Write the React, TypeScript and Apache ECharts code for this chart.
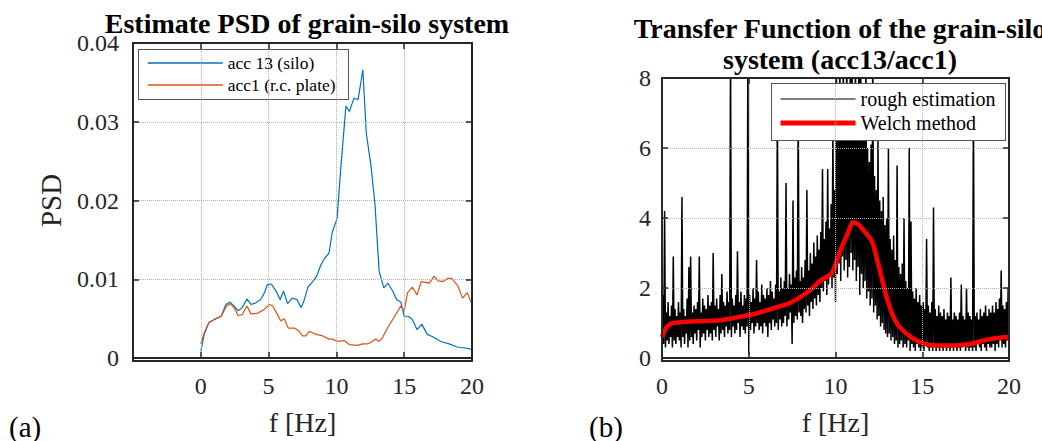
import React, { useEffect, useRef } from "react";
import * as echarts from "echarts";

// ---------- Data ----------
// (a) PSD estimates
const psdFreqBlue = [0, 0.25, 0.6, 1.0, 1.5, 1.85, 2.15, 2.45, 2.75, 3.05, 3.4, 3.7, 4.05, 4.4, 4.7, 4.9, 5.2, 5.55, 5.85, 6.1, 6.4, 6.75, 7.1, 7.4, 7.6, 7.9, 8.25, 8.55, 8.85, 9.15, 9.45, 9.7, 10.05, 10.3, 10.7, 10.95, 11.3, 11.6, 11.95, 12.2, 12.55, 12.85, 13.15, 13.5, 13.8, 14.15, 14.45, 14.75, 15.0, 15.3, 15.6, 15.95, 16.3, 16.7, 17.1, 17.7, 18.3, 18.9, 19.4, 20];
const psdBlue = [0.00084, 0.003, 0.0045, 0.0049, 0.0053, 0.0068, 0.0071, 0.0066, 0.006, 0.0064, 0.0075, 0.0068, 0.007, 0.0074, 0.0083, 0.0093, 0.0094, 0.0085, 0.0074, 0.0085, 0.0069, 0.0076, 0.0074, 0.0064, 0.0072, 0.009, 0.0097, 0.0104, 0.0118, 0.0127, 0.0133, 0.016, 0.0177, 0.0236, 0.032, 0.0313, 0.033, 0.0328, 0.0366, 0.0286, 0.0244, 0.0194, 0.011, 0.0089, 0.0095, 0.0085, 0.0074, 0.0071, 0.0053, 0.0053, 0.0049, 0.0036, 0.0043, 0.003, 0.0027, 0.0021, 0.0018, 0.0014, 0.0013, 0.0011];
const psdFreqOrange = [0, 0.25, 0.6, 1.0, 1.5, 1.9, 2.15, 2.45, 2.75, 3.05, 3.4, 3.7, 4.2, 4.7, 5.05, 5.3, 5.6, 5.9, 6.15, 6.45, 6.9, 7.25, 7.5, 7.75, 8.0, 8.5, 9.0, 9.45, 9.7, 10.1, 10.6, 10.95, 11.55, 11.95, 12.3, 12.55, 12.9, 13.15, 13.4, 13.8, 14.3, 14.75, 15.0, 15.25, 15.6, 15.95, 16.25, 16.85, 17.2, 17.5, 17.85, 18.2, 18.5, 18.95, 19.3, 19.65, 20];
const psdOrange = [0.0018, 0.0032, 0.0045, 0.0049, 0.0053, 0.0066, 0.0069, 0.0064, 0.0054, 0.0055, 0.0066, 0.0056, 0.0057, 0.0062, 0.0068, 0.0066, 0.0057, 0.0047, 0.005, 0.0038, 0.0038, 0.0034, 0.0028, 0.0028, 0.0034, 0.003, 0.0028, 0.0024, 0.0024, 0.0021, 0.0022, 0.0017, 0.0016, 0.0018, 0.0018, 0.002, 0.0024, 0.0021, 0.0026, 0.0039, 0.0053, 0.0066, 0.006, 0.0083, 0.009, 0.008, 0.0097, 0.0095, 0.0104, 0.0098, 0.0097, 0.0101, 0.0101, 0.0092, 0.0076, 0.0083, 0.0068];

// (b) Transfer function, rough estimation: troughs at f = 0.0, 0.1, ... 20.0 Hz
const roughTroughs = [
  0.6, 0.4, 0.3, 0.5, 0.4, 0.6, 0.3, 0.5, 0.4, 0.6,
  0.5, 0.3, 0.6, 0.4, 0.7, 0.3, 0.5, 0.6, 0.4, 0.7,
  0.5, 0.8, 0.3, 0.6, 0.7, 0.5, 0.8, 0.6, 0.7, 0.5,
  0.8, 0.6, 0.9, 0.5, 0.7, 0.8, 0.6, 0.9, 0.7, 0.8,
  0.6, 0.9, 0.7, 0.8, 1.0, 0.6, 0.9, 0.8, 0.7, 0.9,
  0.1, 0.8, 1.0, 0.7, 0.9, 1.0, 0.8, 0.9, 0.7, 1.0,
  0.9, 0.6, 1.0, 0.8, 1.1, 0.9, 1.0, 0.8, 1.1, 0.9,
  1.0, 1.2, 0.9, 1.1, 1.3, 0.4, 1.0, 1.2, 1.1, 1.3,
  1.2, 1.0, 1.4, 1.3, 1.5, 1.2, 1.6, 1.4, 1.7, 1.5,
  1.8, 1.6, 2.0, 1.9, 2.2, 1.8, 2.1, 2.4, 2.0, 2.3,
  1.6, 2.4, 2.7, 2.2, 2.9, 2.5, 2.8, 2.3, 2.6, 3.0,
  2.5, 2.8, 2.2, 2.6, 1.8, 2.4, 2.0, 2.2, 1.7, 1.9,
  1.5, 1.7, 1.3, 1.5, 1.1, 1.2, 0.9, 1.0, 0.8, 0.7,
  0.6, 0.7, 0.5, 0.6, 0.4, 0.5, 0.3, 0.4, 0.5, 0.3,
  0.4, 0.3, 0.5, 0.2, 0.4, 0.3, 0.2, 0.4, 0.3, 0.2,
  0.3, 0.2, 0.4, 0.3, 0.2, 0.3, 0.2, 0.4, 0.2, 0.3,
  0.2, 0.3, 0.2, 0.4, 0.2, 0.3, 0.2, 0.3, 0.2, 0.4,
  0.2, 0.3, 0.2, 0.3, 0.4, 0.2, 0.3, 0.2, 0.3, 0.2,
  0.3, 0.2, 0.4, 0.3, 0.2, 0.4, 0.3, 0.2, 0.4, 0.3,
  0.3, 0.4, 0.2, 0.4, 0.3, 0.5, 0.3, 0.4, 0.3, 0.5,
  0.6,
];
// rough estimation: peaks at f = 0.05, 0.15, ... 19.95 Hz
const roughPeaks = [
  1.8, 4.2, 1.3, 1.6, 1.2, 1.5, 2.9, 1.4, 1.2, 1.6,
  1.3, 4.6, 1.4, 1.2, 1.7, 2.6, 2.9, 1.3, 1.5, 1.4,
  1.6, 2.9, 1.3, 1.7, 1.5, 1.4, 1.8, 1.5, 1.6, 3.0,
  1.5, 1.7, 1.4, 1.8, 2.4, 1.6, 1.5, 1.9, 1.6, 9.0,
  1.7, 1.5, 1.8, 3.05, 1.6, 1.9, 1.5, 1.8, 1.7, 9.0,
  1.8, 1.6, 2.0, 1.7, 2.8, 1.9, 1.6, 2.1, 1.8, 1.7,
  2.0, 1.8, 2.2, 1.9, 1.7, 2.1, 7.5, 1.9, 2.3, 2.0,
  2.2, 5.0, 2.0, 2.4, 2.1, 4.5, 2.3, 2.5, 7.5, 2.2,
  2.6, 2.3, 2.8, 4.8, 2.5, 3.0, 2.7, 3.3, 2.9, 3.5,
  3.1, 3.6, 5.4, 3.4, 3.9, 5.4, 3.7, 4.4, 6.5, 4.8,
  9.0, 6.2, 9.0, 7.0, 9.0, 6.6, 9.0, 7.4, 9.0, 9.0,
  7.2, 9.0, 6.8, 9.0, 9.0, 7.0, 6.4, 9.0, 6.0, 5.6,
  6.1, 9.0, 5.2, 4.8, 6.2, 4.5, 4.2, 4.6, 3.8, 4.0,
  6.0, 3.4, 3.1, 3.5, 2.8, 5.5, 2.6, 2.4, 2.7, 4.0,
  2.2, 2.0, 6.0, 3.9, 1.9, 1.7, 2.0, 1.6, 1.8, 1.5,
  1.6, 1.4, 3.4, 1.5, 1.3, 1.6, 4.3, 1.4, 1.2, 1.5,
  1.3, 1.2, 1.4, 1.1, 1.3, 1.2, 2.3, 1.1, 1.3, 1.2,
  1.1, 1.3, 2.1, 1.2, 1.1, 2.0, 1.3, 1.2, 1.1, 7.5,
  1.2, 1.3, 1.1, 1.4, 1.2, 1.3, 1.5, 1.2, 1.4, 1.3,
  1.5, 1.3, 1.6, 1.4, 1.7, 2.5, 1.5, 1.4, 1.6, 2.0,
];
// Welch method
const welchFreq = [0, 0.27, 0.55, 1.04, 2.0, 3.34, 4.3, 5.26, 6.4, 7.4, 8.5, 9.1, 9.78, 10.26, 10.74, 11.0, 11.3, 11.7, 12.1, 12.47, 12.95, 13.4, 13.9, 14.5, 15.06, 15.8, 16.8, 17.75, 18.7, 19.5, 20];
const welchVals = [0.6, 0.88, 0.99, 1.02, 1.05, 1.08, 1.16, 1.25, 1.42, 1.58, 1.92, 2.2, 2.43, 3.05, 3.6, 3.88, 3.82, 3.6, 3.33, 2.67, 1.73, 1.11, 0.78, 0.55, 0.42, 0.36, 0.36, 0.4, 0.52, 0.58, 0.6];

const xTicksA = { min: -5, max: 20, interval: 5 };
const xTicksB = { min: 0, max: 20, interval: 5 };
const yTicksA = { min: 0, max: 0.04, interval: 0.01 };
const yTicksB = { min: 0, max: 8, interval: 2 };

const FONT = "Liberation Serif, Times New Roman, serif";
const AX = "#262626";

function pairs(xs: number[], ys: number[]) {
  return xs.map((x, i) => [x, ys[i]]);
}

// thin overlay boxes (plot frames and legend borders)
const boxStyle = (left: number, top: number, width: number, height: number, border: string): React.CSSProperties => ({
  position: "absolute",
  left,
  top,
  width,
  height,
  boxSizing: "border-box",
  border,
  pointerEvents: "none",
});

export default function App() {
  const ref = useRef<HTMLDivElement>(null);
  useEffect(() => {
    if (!ref.current) return;
    const chart = echarts.init(ref.current, undefined, { renderer: "svg" });

    const roughData: number[][] = [];
    for (let k = 0; k < roughTroughs.length; k++) {
      roughData.push([k / 10, roughTroughs[k]]);
      if (k < roughPeaks.length) roughData.push([k / 10 + 0.05, roughPeaks[k]]);
    }

    const frameLine = () => ({ show: true, onZero: false, lineStyle: { color: AX, width: 2 } });
    const tickIn = () => ({ show: true, inside: true, length: 6, lineStyle: { color: AX, width: 1.5 } });
    const grid = () => ({
      show: true,
      showMinLine: false,
      showMaxLine: false,
      lineStyle: { type: "dotted", color: "#b0b0b0", width: 1 },
    });
    const tickLabel = (margin: number, fmt?: any) => ({
      show: true,
      margin,
      fontSize: 24,
      fontFamily: FONT,
      color: AX,
      formatter: fmt,
    });

    const mkX = (gi: number, t: any, bottom: boolean, fmt?: any) => ({
      type: "value",
      gridIndex: gi,
      position: bottom ? "bottom" : "top",
      ...t,
      z: 6,
      axisLine: frameLine(),
      axisTick: tickIn(),
      axisLabel: bottom ? tickLabel(16, fmt) : { show: false },
      splitLine: bottom ? grid() : { show: false },
      name: bottom ? "f [Hz]" : "",
      nameLocation: "middle",
      nameGap: 50,
      nameTextStyle: { fontSize: 28, fontFamily: FONT, color: AX },
    });
    const mkY = (gi: number, t: any, left: boolean, margin: number, name?: string) => ({
      type: "value",
      gridIndex: gi,
      position: left ? "left" : "right",
      ...t,
      z: 6,
      axisLine: frameLine(),
      axisTick: tickIn(),
      axisLabel: left ? tickLabel(margin) : { show: false },
      splitLine: left ? grid() : { show: false },
      name: name || "",
      nameLocation: "middle",
      nameGap: 68,
      nameTextStyle: { fontSize: 29, fontFamily: FONT, color: AX },
    });

    chart.setOption({
      animation: false,
      title: [
        {
          text: "Estimate PSD of grain-silo system",
          left: 302,
          top: 6,
          textAlign: "center",
          textStyle: { fontFamily: FONT, fontWeight: "bold", fontSize: 28, lineHeight: 24, color: "#000" },
        },
        {
          text: "Transfer Function of the grain-silo\nsystem (acc13/acc1)",
          left: 835,
          top: 8,
          textAlign: "center",
          textStyle: { fontFamily: FONT, fontWeight: "bold", fontSize: 28, color: "#000", lineHeight: 31 },
        },
      ],
      legend: [
        {
          orient: "vertical",
          backgroundColor: "#ffffff",
          borderWidth: 0,
          itemWidth: 75,
          selectedMode: false,
          left: 138,
          top: 49,
          padding: [5, 9, 5, 9],
          itemGap: 4,
          itemHeight: 18,
          itemStyle: { opacity: 0 },
          data: [
            { name: "acc 13 (silo)", lineStyle: { width: 1.5 } },
            { name: "acc1 (r.c. plate)", lineStyle: { width: 1.5 } },
          ],
          textStyle: { fontFamily: FONT, fontSize: 17.5, color: "#000" },
        },
        {
          orient: "vertical",
          backgroundColor: "#ffffff",
          borderWidth: 0,
          itemWidth: 75,
          selectedMode: false,
          left: 771,
          top: 83,
          padding: [6, 10, 7, 7],
          itemGap: 4,
          itemHeight: 20,
          itemStyle: { opacity: 0 },
          data: [
            { name: "rough estimation", lineStyle: { width: 1 } },
            { name: "Welch method", lineStyle: { width: 5 } },
          ],
          textStyle: { fontFamily: FONT, fontSize: 20, color: "#000" },
        },
      ],
      grid: [
        { left: 133, right: 570, top: 43, bottom: 80 },
        { left: 662, right: 33, top: 78, bottom: 80 },
      ],
      xAxis: [
        mkX(0, xTicksA, true, (v: number) => (v < 0 ? "" : String(v))),
        mkX(0, xTicksA, false),
        mkX(1, xTicksB, true),
        mkX(1, xTicksB, false),
      ],
      yAxis: [
        mkY(0, yTicksA, true, 14, "PSD"),
        mkY(0, yTicksA, false, 14),
        mkY(1, yTicksB, true, 11),
        mkY(1, yTicksB, false, 11),
      ],
      graphic: [
        { type: "text", left: 9, top: 412, style: { text: "(a)", font: `29px ${FONT}`, fill: "#000" } },
        { type: "text", left: 589, top: 412, style: { text: "(b)", font: `29px ${FONT}`, fill: "#000" } },
      ],
      series: [
        {
          name: "acc 13 (silo)",
          type: "line",
          xAxisIndex: 0,
          yAxisIndex: 0,
          data: pairs(psdFreqBlue, psdBlue),
          symbol: "none",
          color: "#0072BD",
          lineStyle: { width: 1.2, color: "#0072BD" },
        },
        {
          name: "acc1 (r.c. plate)",
          type: "line",
          xAxisIndex: 0,
          yAxisIndex: 0,
          data: pairs(psdFreqOrange, psdOrange),
          symbol: "none",
          color: "#D95319",
          lineStyle: { width: 1.2, color: "#D95319" },
        },
        {
          name: "rough estimation",
          type: "line",
          xAxisIndex: 2,
          yAxisIndex: 2,
          data: roughData,
          symbol: "none",
          clip: true,
          color: "#000",
          lineStyle: { width: 1.5, color: "#000" },
        },
        {
          name: "Welch method",
          type: "line",
          xAxisIndex: 2,
          yAxisIndex: 2,
          data: pairs(welchFreq, welchVals),
          symbol: "none",
          smooth: 0.3,
          color: "#ff0000",
          lineStyle: { width: 4.5, color: "#ff0000" },
        },
      ],
    });
    return () => chart.dispose();
  }, []);
  return (
    <div style={{ position: "absolute", left: 0, top: 0, width: 1042, height: 441 }}>
      <div ref={ref} style={{ position: "absolute", left: 0, top: 0, width: 1042, height: 441, background: "#fff" }} />
      <div style={boxStyle(132, 42, 341, 320, `2px solid ${AX}`)} />
      <div style={boxStyle(661, 77, 349, 285, `2px solid ${AX}`)} />
      <div style={boxStyle(138, 49, 211, 51, "1px solid #555555")} />
      <div style={boxStyle(771, 83, 235, 58, "1px solid #555555")} />
    </div>
  );
}
